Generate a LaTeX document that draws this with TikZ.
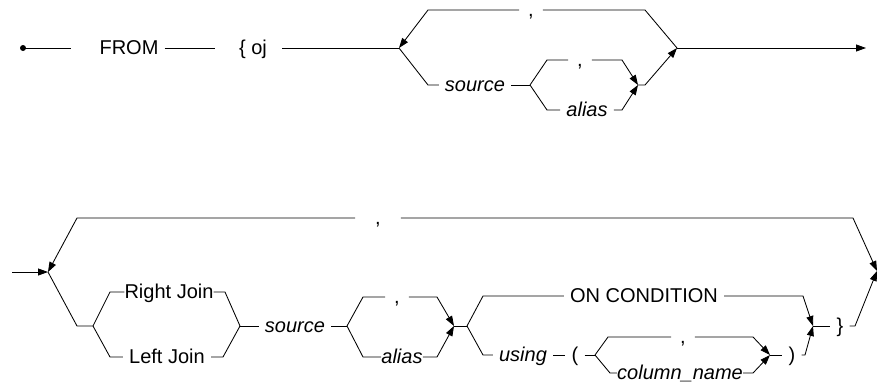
\documentclass[tikz,border=0pt]{standalone}
\usepackage{fontspec}
\setmainfont{Liberation Sans}
\usetikzlibrary{arrows.meta}

\begin{document}
\begin{tikzpicture}[
    x=1pt, y=-1pt,
    rail/.style={line width=0.85pt, draw=black},
    arrow/.style={rail, -{Triangle[length=10pt, width=7pt]}},
    term/.style={anchor=center, inner xsep=6pt, inner ysep=0pt, text height=12pt, text depth=0pt, font=\fontsize{20pt}{24pt}\selectfont},
    var/.style={term, font=\fontsize{20pt}{24pt}\selectfont\itshape},
    comma/.style={inner xsep=9pt}
]
    \useasboundingbox (0,0) rectangle (880,383);

    % first line
    \coordinate (start) at (23,48);
    \coordinate (s1) at (399,48);
    \coordinate (e1) at (677,48);
    \coordinate (end1) at (866,48);
    \coordinate (s2) at (530,85);
    \coordinate (m2) at (638,85);
    \node[term] (from) at (129,48) {FROM};
    \node[term] (oj) at (253,48) {\{ oj};
    \node[term, comma] (c1) at (531,10) {,};
    \node[var] (src1) at (475,85) {source};
    \node[term, comma] (c2) at (580,60) {,};
    \node[var] (al1) at (587,110) {alias};

    \fill (start) circle (3pt);
    \draw[rail, shorten >=22pt] (start) -- (from);
    \draw[rail, shorten >=18pt] (from) -- (oj);
    \draw[rail, shorten <=9pt] (oj) -- (s1);
    \draw[arrow] (c1) -- (428,10) -- (s1);
    \draw[rail] (e1) -- (645,10) -- (c1);
    \draw[rail] (s1) -- (428,85) -- (src1);
    \draw[rail] (src1) -- (s2);
    \draw[rail] (s2) -- (547,60) -- (c2);
    \draw[arrow] (c2) -- (622,60) -- (m2);
    \draw[rail] (s2) -- (547,110) -- (al1);
    \draw[arrow] (al1) -- (622,110) -- (m2);
    \draw[arrow] (m2) -- (645,85) -- (e1);
    \draw[arrow] (e1) -- (end1);

    % second line
    \coordinate (in2) at (12,272);
    \coordinate (s3) at (48,272);
    \coordinate (e3) at (877,271);
    \coordinate (j1) at (93,326);
    \coordinate (j2) at (240,326);
    \coordinate (s4) at (347,326);
    \coordinate (m4) at (454,326);
    \coordinate (s5) at (467,326);
    \coordinate (m5) at (813,326);
    \coordinate (s6) at (595,355);
    \coordinate (m6) at (770,355);
    \node[term, inner xsep=20pt] (c3) at (378,218) {,};
    \node[term, inner xsep=0pt] (rj) at (169,292) {Right Join};
    \node[term] (lj) at (167,357) {Left Join};
    \node[var] (src2) at (295,326) {source};
    \node[term, comma] (c4) at (397,297) {,};
    \node[var, inner xsep=0pt] (al2) at (402,357) {alias};
    \node[term] (on) at (644,296) {ON CONDITION};
    \node[var] (using) at (523,355) {using};
    \node[term] (lp) at (575,355) {(};
    \node[term, comma] (c6) at (683,337) {,};
    \node[var, inner xsep=0pt] (col) at (680,373) {column\_name};
    \node[term] (rp) at (792,355) {)};
    \node[term] (rb) at (840,326) {\}};

    \draw[arrow] (in2) -- (s3);
    \draw[arrow] (c3) -- (77,218) -- (s3);
    \draw[arrow] (c3) -- (853,218) -- (e3);
    \draw[rail] (s3) -- (77,326) -- (j1);
    \draw[rail] (j1) -- (110,292) -- (rj);
    \draw[rail] (rj) -- (225,292) -- (j2);
    \draw[rail] (j1) -- (110,357) -- (lj);
    \draw[rail] (lj) -- (223,357) -- (j2);
    \draw[rail] (j2) -- (src2);
    \draw[rail] (src2) -- (s4);
    \draw[rail] (s4) -- (363,297) -- (c4);
    \draw[arrow] (c4) -- (437,297) -- (m4);
    \draw[rail] (s4) -- (363,357) -- (al2);
    \draw[arrow] (al2) -- (437,357) -- (m4);
    \draw[rail] (m4) -- (s5);
    \draw[rail] (s5) -- (483,296) -- (on);
    \draw[arrow] (on) -- (803,296) -- (m5);
    \draw[rail] (s5) -- (483,355) -- (using);
    \draw[rail] (using) -- (lp);
    \draw[rail] (lp) -- (s6);
    \draw[rail] (s6) -- (608,337) -- (c6);
    \draw[arrow] (c6) -- (753,337) -- (m6);
    \draw[rail] (s6) -- (610,373) -- (col);
    \draw[arrow] (col) -- (753,373) -- (m6);
    \draw[rail] (m6) -- (rp);
    \draw[arrow] (rp) -- (805,355) -- (m5);
    \draw[rail] (m5) -- (rb);
    \draw[arrow] (rb) -- (855,326) -- (e3);
\end{tikzpicture}
\end{document}
